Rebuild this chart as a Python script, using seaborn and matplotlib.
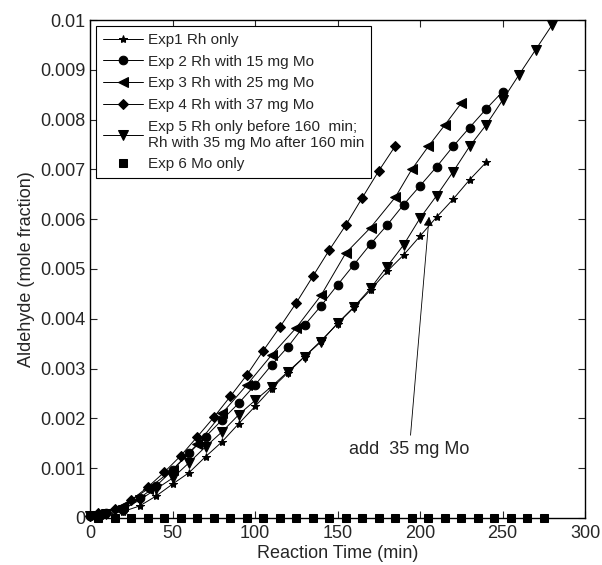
import numpy as np
import pandas as pd
import seaborn as sns
import matplotlib
matplotlib.use("Agg")
import matplotlib.pyplot as plt

# reaction time (min) and aldehyde mole fraction
t_exp1 = [0, 10, 20, 30, 40, 50, 60, 70, 80, 90, 100, 110, 120, 130, 140, 150,
          160, 170, 180, 190, 200, 210, 220, 230, 240]
y_exp1 = [0.00003, 0.00007, 0.00013, 0.00024, 0.00044, 0.00068, 0.00091, 0.00123,
          0.00153, 0.00189, 0.00224, 0.0026, 0.00292, 0.00324, 0.00356, 0.0039,
          0.00423, 0.00458, 0.00495, 0.00528, 0.00566, 0.00604, 0.0064, 0.00679,
          0.00714]

t_exp2 = [0, 10, 20, 30, 40, 50, 60, 70, 80, 90, 100, 110, 120, 130, 140, 150,
          160, 170, 180, 190, 200, 210, 220, 230, 240, 250]
y_exp2 = [0.00003, 0.0001, 0.00016, 0.0004, 0.00064, 0.00096, 0.0013, 0.00163,
          0.00197, 0.0023, 0.00267, 0.00307, 0.00344, 0.00387, 0.00426, 0.00468,
          0.00509, 0.0055, 0.00588, 0.00629, 0.00667, 0.00705, 0.00746, 0.00784,
          0.00821, 0.00856]

t_exp3 = [5, 20, 35, 50, 65, 80, 95, 110, 125, 140, 155, 170, 185, 195, 205,
          215, 225]
y_exp3 = [0.00008, 0.00025, 0.00058, 0.00097, 0.00148, 0.0021, 0.00267, 0.00327,
          0.00382, 0.00447, 0.00532, 0.00583, 0.00644, 0.007, 0.00746, 0.00789,
          0.00833]

t_exp4 = [0, 5, 15, 25, 35, 45, 55, 65, 75, 85, 95, 105, 115, 125, 135, 145,
          155, 165, 175, 185]
y_exp4 = [0.00005, 0.0001, 0.00019, 0.00036, 0.00062, 0.00092, 0.00125, 0.00163,
          0.00202, 0.00244, 0.00287, 0.00336, 0.00383, 0.00432, 0.00485, 0.00538,
          0.00588, 0.00643, 0.00697, 0.00747]

t_exp5 = [0, 10, 20, 30, 40, 50, 60, 70, 80, 90, 100, 110, 120, 130, 140, 150,
          160, 170, 180, 190, 200, 210, 220, 230, 240, 250, 260, 270, 280]
y_exp5 = [0.00005, 0.00009, 0.00017, 0.00036, 0.00058, 0.0008, 0.00111, 0.00143,
          0.00173, 0.00207, 0.00236, 0.00264, 0.00294, 0.00324, 0.00354, 0.00391,
          0.00424, 0.00461, 0.00505, 0.00548, 0.00602, 0.00647, 0.00695, 0.00746,
          0.00789, 0.00839, 0.0089, 0.0094, 0.0099]

t_exp6 = [5, 15, 25, 35, 45, 55, 65, 75, 85, 95, 105, 115, 125, 135, 145, 155,
          165, 175, 185, 195, 205, 215, 225, 235, 245, 255, 265, 275]
y_exp6 = [0.0] * len(t_exp6)

labels = ["Exp1 Rh only",
          "Exp 2 Rh with 15 mg Mo",
          "Exp 3 Rh with 25 mg Mo",
          "Exp 4 Rh with 37 mg Mo",
          "Exp 5 Rh only before 160  min;\nRh with 35 mg Mo after 160 min",
          "Exp 6 Mo only"]


def main():
    sns.set_style("ticks")
    plt.rcParams["font.family"] = ["Liberation Sans", "DejaVu Sans"]

    fig = plt.figure(figsize=(6.02, 5.65), dpi=100)
    ax = fig.add_axes([0.1495, 0.0832, 0.8223, 0.8814])

    series = [
        (t_exp1, y_exp1, "*", 6, True),
        (t_exp2, y_exp2, "o", 6.2, True),
        (t_exp3, y_exp3, "<", 6.5, True),
        (t_exp4, y_exp4, "D", 4.8, True),
        (t_exp5, y_exp5, "v", 6.5, True),
        (t_exp6, y_exp6, "s", 5.8, False),
    ]
    handles = []
    for (t, y, mk, ms, with_line), lab in zip(series, labels):
        df = pd.DataFrame({"t": t, "y": y})
        sns.lineplot(data=df, x="t", y="y", ax=ax, color="black",
                     linewidth=0.7 if with_line else 0, marker=mk,
                     markersize=ms, markeredgecolor="black",
                     markerfacecolor="black", clip_on=False, label=lab,
                     legend=False)
        handles.append(ax.lines[-1])

    ax.annotate("add  35 mg Mo", xy=(205.5, 0.00605), xytext=(193.5, 0.00137),
                ha="center", va="center", fontsize=13,
                arrowprops=dict(arrowstyle="-|>", color="black", lw=0.6,
                                mutation_scale=14, shrinkA=2, shrinkB=0))

    ax.set_xlim(0, 300)
    ax.set_ylim(0, 0.01)
    ax.set_xticks(np.arange(0, 301, 50))
    yt = np.arange(0, 0.01001, 0.001)
    ax.set_yticks(yt)
    ax.set_yticklabels(["0"] + ["%g" % v for v in yt[1:]])
    ax.tick_params(direction="in", top=True, right=True, length=5,
                   width=0.8, labelsize=13)
    ax.tick_params(axis="x", pad=5)
    ax.tick_params(axis="y", pad=3)
    for sp in ax.spines.values():
        sp.set_visible(True)
        sp.set_linewidth(1.0)
        sp.set_color("black")
    ax.set_xlabel("Reaction Time (min)", fontsize=13, labelpad=2)
    ax.set_ylabel("Aldehyde (mole fraction)", fontsize=13, labelpad=4)

    leg = ax.legend(handles=handles, labels=labels, loc="upper left",
                    fontsize=11, frameon=True, fancybox=False,
                    edgecolor="black", framealpha=1, handlelength=2.6,
                    handletextpad=0.35, labelspacing=0.5, borderpad=0.45,
                    borderaxespad=0.4)
    leg.get_frame().set_linewidth(0.8)

    fig.savefig("out.png", dpi=100)


if __name__ == "__main__":
    main()
